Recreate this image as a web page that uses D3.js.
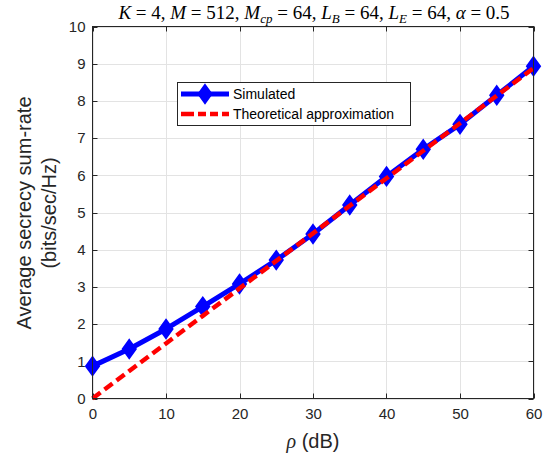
<!DOCTYPE html>
<html><head><meta charset="utf-8">
<script src="https://cdn.jsdelivr.net/npm/d3@7"></script>
<style>body{margin:0;background:#fff}svg{display:block}</style>
</head><body>
<svg id="c" width="551" height="458"></svg>
<script>
const rhoDb = [0,5,10,15,20,25,30,35,40,45,50,55,60];
const simulated = [0.87,1.33,1.87,2.47,3.08,3.72,4.42,5.2,5.97,6.7,7.37,8.15,8.93];
const theoretical = [0,0.74,1.48,2.22,2.96,3.7,4.44,5.18,5.92,6.66,7.4,8.14,8.88];
const xTicks = [0,10,20,30,40,50,60];
const yTicks = [0,1,2,3,4,5,6,7,8,9,10];
const legendLabels = ["Simulated","Theoretical approximation"];

const svg = d3.select("#c");
const L=92.5, R=533.5, T=26.5, B=398.5;
const x = d3.scaleLinear().domain([0,60]).range([L,R]);
const y = d3.scaleLinear().domain([0,10]).range([B,T]);
const axisCol="#262626";
const sans="Liberation Sans, Arial, sans-serif";

// grid
const g = svg.append("g");
g.selectAll(".gx").data(xTicks).enter().append("line")
 .attr("x1",d=>Math.round(x(d))+0.5).attr("x2",d=>Math.round(x(d))+0.5).attr("y1",T).attr("y2",B)
 .attr("stroke","#e3e3e3").attr("stroke-width",1);
g.selectAll(".gy").data(yTicks).enter().append("line")
 .attr("y1",d=>Math.round(y(d))+0.5).attr("y2",d=>Math.round(y(d))+0.5).attr("x1",L).attr("x2",R)
 .attr("stroke","#e3e3e3").attr("stroke-width",1);

// axes
const xa = svg.append("g").attr("transform",`translate(0,${B})`).call(d3.axisBottom(x).tickValues(xTicks).tickSize(0).tickPadding(10));
const ay = svg.append("g").attr("transform",`translate(${L},0)`).call(d3.axisLeft(y).tickValues(yTicks).tickSize(0).tickPadding(7));
[xa,ay].forEach(a=>{a.select(".domain").remove();a.selectAll("text").attr("font-family",sans).attr("font-size",15).attr("fill",axisCol);});

// tick marks inside on all sides
const tk = svg.append("g").attr("stroke",axisCol).attr("stroke-width",1);
xTicks.forEach(d=>{const px=Math.round(x(d))+0.5;
 tk.append("line").attr("x1",px).attr("x2",px).attr("y1",B).attr("y2",B-5);
 tk.append("line").attr("x1",px).attr("x2",px).attr("y1",T).attr("y2",T+5);});
yTicks.forEach(d=>{const py=Math.round(y(d))+0.5;
 tk.append("line").attr("x1",L).attr("x2",L+5).attr("y1",py).attr("y2",py);
 tk.append("line").attr("x1",R).attr("x2",R-5).attr("y1",py).attr("y2",py);});

// lines
const line = d3.line().x((d,i)=>x(rhoDb[i])).y(d=>y(d));
svg.append("path").datum(simulated).attr("d",line).attr("fill","none").attr("stroke","#0000ff").attr("stroke-width",5).attr("stroke-linejoin","round");
const diamond = "M0,-9L6.5,0L0,9L-6.5,0Z";
svg.selectAll(".mk").data(simulated).enter().append("path")
 .attr("d",diamond).attr("transform",(d,i)=>`translate(${x(rhoDb[i])},${y(d)})`)
 .attr("fill","#0000ff").attr("stroke","#0000ff").attr("stroke-width",2);
svg.append("path").datum(theoretical).attr("d",line).attr("fill","none").attr("stroke","#ff0000").attr("stroke-width",4.5).attr("stroke-dasharray","10,5");

// box
svg.append("rect").attr("x",L).attr("y",T).attr("width",R-L).attr("height",B-T).attr("fill","none").attr("stroke",axisCol).attr("stroke-width",1);

// legend
const lg = svg.append("g");
lg.append("rect").attr("x",177.5).attr("y",82.5).attr("width",233).attr("height",43).attr("fill","#fff").attr("stroke",axisCol).attr("stroke-width",1);
lg.append("line").attr("x1",181).attr("x2",229).attr("y1",94).attr("y2",94).attr("stroke","#0000ff").attr("stroke-width",5);
lg.append("path").attr("d",diamond).attr("transform","translate(205,94)").attr("fill","#0000ff").attr("stroke","#0000ff").attr("stroke-width",2);
lg.append("line").attr("x1",181).attr("x2",229).attr("y1",114).attr("y2",114).attr("stroke","#ff0000").attr("stroke-width",4.5).attr("stroke-dasharray","13,4,8,4,8,4");
legendLabels.forEach((t,i)=>lg.append("text").attr("x",233).attr("y",99+i*20).text(t)
 .attr("font-family",sans).attr("font-size",14).attr("fill","#000"));

// axis labels
svg.append("text").attr("x",313).attr("y",448).attr("text-anchor","middle")
 .attr("font-family",sans).attr("font-size",20).attr("fill",axisCol)
 .call(t=>{t.append("tspan").attr("font-family","Liberation Serif, serif").attr("font-style","italic").text("ρ");t.append("tspan").text(" (dB)");});
const yl = svg.append("text").attr("transform","translate(31,213) rotate(-90)").attr("text-anchor","middle")
 .attr("font-family",sans).attr("font-size",20).attr("fill",axisCol);
yl.append("tspan").attr("x",0).attr("dy",0).text("Average secrecy sum-rate");
yl.append("tspan").attr("x",0).attr("dy",25).text("(bits/sec/Hz)");

// title
const title = svg.append("text").attr("x",314).attr("y",19).attr("text-anchor","middle")
 .attr("font-family","Liberation Serif, 'DejaVu Serif', serif").attr("font-size",19).attr("fill","#000");
const parts = [["K",null," = 4, "],["M",null," = 512, "],["M","cp"," = 64, "],["L","B"," = 64, "],["L","E"," = 64, "],["α",null," = 0.5"]];
parts.forEach(p=>{
 title.append("tspan").attr("font-style","italic").text(p[0]);
 if(p[1]){title.append("tspan").attr("font-style","italic").attr("font-size",13).attr("dy",4).text(p[1]);
   title.append("tspan").attr("dy",-4).text(p[2]);}
 else title.append("tspan").text(p[2]);
});
</script>
</body></html>
